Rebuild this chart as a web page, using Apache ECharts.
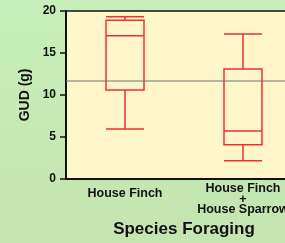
<!DOCTYPE html>
<html><head><meta charset="utf-8">
<script src="https://cdn.jsdelivr.net/npm/echarts@6/dist/echarts.min.js"></script>
<style>html,body{margin:0;padding:0;overflow:hidden;width:285px;height:243px;}#c{width:320px;height:243px;}</style>
</head><body><div id="c"></div>
<script>
const categories = ['House Finch', 'House Finch\n+\nHouse Sparrow'];
// [min, Q1, median, Q3, max]
const boxValues = [
  [5.95, 10.6, 17.05, 18.9, 19.3],
  [2.15, 4.05, 5.7, 13.1, 17.25]
];
const meanLine = 11.7;
const yTicks = [0, 5, 10, 15, 20];

const FONT = 'Liberation Sans';
const chart = echarts.init(document.getElementById('c'), null, {renderer: 'canvas'});
chart.setOption({
  animation: false,
  backgroundColor: new echarts.graphic.LinearGradient(0, 0, 0, 1, [
    {offset: 0, color: '#c8efb9'}, {offset: 1, color: '#c3e5b0'}
  ]),
  grid: {left: 66, top: 11, right: 18, bottom: 61, show: true,
         backgroundColor: '#fff7c9', borderColor: '#111', borderWidth: 1.5},
  xAxis: {
    type: 'category',
    data: [
      {value: categories[0], textStyle: {padding: [5, 0, 0, 0]}},
      {value: categories[1]}
    ],
    name: 'Species Foraging', nameLocation: 'middle', nameGap: 48,
    nameTextStyle: {fontFamily: FONT, fontWeight: 'bold', fontSize: 17, color: '#111', verticalAlign: 'middle'},
    axisLine: {lineStyle: {color: '#111', width: 2}},
    axisTick: {show: false},
    axisLabel: {fontFamily: FONT, fontWeight: 'bold', fontSize: 12.5, color: '#111',
                margin: 4.5, verticalAlign: 'top', lineHeight: 10.5, interval: 0},
    splitLine: {show: false}
  },
  yAxis: {
    type: 'value', min: yTicks[0], max: yTicks[yTicks.length - 1], interval: 5,
    name: 'GUD (g)', nameLocation: 'middle', nameGap: 28,
    nameTextStyle: {fontFamily: FONT, fontWeight: 'bold', fontSize: 14, color: '#111'},
    axisLine: {show: true, lineStyle: {color: '#111', width: 2}},
    axisTick: {show: true, length: 6, lineStyle: {color: '#111', width: 1.5}},
    axisLabel: {fontFamily: FONT, fontWeight: 'bold', fontSize: 12, color: '#111', margin: 10},
    splitLine: {show: false}
  },
  series: [{
    type: 'boxplot',
    data: boxValues,
    boxWidth: [38, 38],
    itemStyle: {color: 'rgba(0,0,0,0)', borderColor: '#f23030', borderWidth: 1.5},
    markLine: {
      silent: true, symbol: 'none',
      label: {show: false},
      lineStyle: {color: 'rgba(120,120,120,0.7)', type: 'solid', width: 1.5},
      data: [{yAxis: meanLine}]
    }
  }]
});
</script></body></html>
